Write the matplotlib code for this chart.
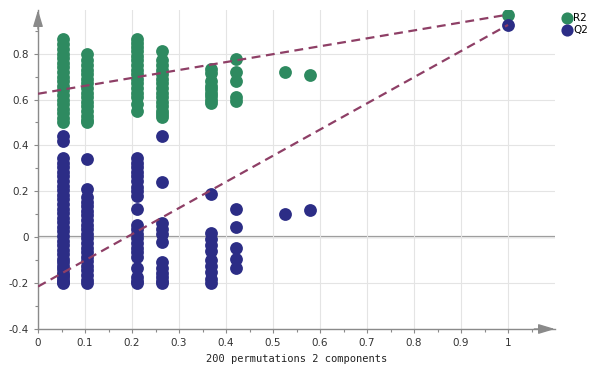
import matplotlib.pyplot as plt

# permutation results: x = correlation of permuted y with original y
r2_x = [1/19] * 19 + [2/19] * 16 + [4/19] * 16 + [5/19] * 15 + [7/19] * 9 + [8/19] * 5 + [10/19, 11/19, 1.0]
r2_y = [0.865, 0.84, 0.82, 0.80, 0.78, 0.76, 0.74, 0.72, 0.70, 0.68, 0.66, 0.64, 0.62, 0.60, 0.58, 0.56, 0.54, 0.52, 0.50,
        0.80, 0.77, 0.75, 0.73, 0.71, 0.69, 0.67, 0.65, 0.63, 0.61, 0.59, 0.57, 0.55, 0.53, 0.51, 0.50,
        0.865, 0.845, 0.83, 0.81, 0.79, 0.77, 0.75, 0.73, 0.71, 0.69, 0.67, 0.65, 0.63, 0.61, 0.58, 0.55,
        0.81, 0.77, 0.75, 0.73, 0.71, 0.69, 0.67, 0.65, 0.63, 0.61, 0.59, 0.57, 0.55, 0.535, 0.525,
        0.735, 0.715, 0.68, 0.66, 0.645, 0.63, 0.615, 0.60, 0.585,
        0.775, 0.72, 0.68, 0.61, 0.595,
        0.72, 0.705, 0.97]

q2_x = [1/19] * 34 + [2/19] * 22 + [4/19] * 22 + [5/19] * 12 + [7/19] * 10 + [8/19] * 5 + [10/19, 11/19, 1.0]
q2_y = [0.44, 0.42, 0.345, 0.325, 0.305, 0.285, 0.265, 0.245, 0.225, 0.205, 0.185, 0.165, 0.145, 0.125, 0.105, 0.085,
        0.065, 0.045, 0.025, 0.005, -0.015, -0.035, -0.055, -0.075, -0.095, -0.11, -0.125, -0.14, -0.155, -0.165,
        -0.175, -0.185, -0.195, -0.2,
        0.34, 0.21, 0.175, 0.155, 0.135, 0.115, 0.095, 0.075, 0.055, 0.035, 0.015, -0.005, -0.025, -0.045, -0.065,
        -0.085, -0.105, -0.125, -0.145, -0.165, -0.185, -0.2,
        0.345, 0.325, 0.305, 0.285, 0.265, 0.245, 0.22, 0.2, 0.18, 0.125, 0.055, 0.035, 0.015, -0.005, -0.025,
        -0.045, -0.065, -0.085, -0.135, -0.175, -0.19, -0.2,
        0.44, 0.24, 0.06, 0.035, 0.015, -0.02, -0.11, -0.135, -0.155, -0.175, -0.19, -0.2,
        0.19, 0.02, -0.01, -0.035, -0.06, -0.1, -0.125, -0.15, -0.18, -0.2,
        0.125, 0.045, -0.045, -0.095, -0.135,
        0.1, 0.12, 0.925]

# regression line intercepts (x = 0) and original model values (x = 1)
r2_line = [0.625, 0.97]
q2_line = [-0.215, 0.925]
line_x = [0, 1]

green = "#2e8a60"
blue = "#2c2d86"
dash = "#8e3f66"
axis_col = "#8a8a8a"

fig = plt.figure(figsize=(6.02, 3.77), dpi=100)
ax = fig.add_axes([38/602, 48/377, 517/602, 319/377])

ax.scatter(r2_x, r2_y, s=85, color=green, label="R2", zorder=3, linewidths=0)
ax.scatter(q2_x, q2_y, s=85, color=blue, label="Q2", zorder=4, linewidths=0)
ax.plot(line_x, r2_line, "--", color=dash, lw=1.6, dashes=(4, 2.5), zorder=5)
ax.plot(line_x, q2_line, "--", color=dash, lw=1.6, dashes=(4, 2.5), zorder=5)
ax.axhline(0, color="#9a9a9a", lw=1.6, zorder=1)

ax.set_xlim(0, 1.1)
ax.set_ylim(-0.4, 0.99)
ax.set_xticks([0, 0.1, 0.2, 0.3, 0.4, 0.5, 0.6, 0.7, 0.8, 0.9, 1])
ax.set_xticklabels(["0", "0.1", "0.2", "0.3", "0.4", "0.5", "0.6", "0.7", "0.8", "0.9", "1"])
ax.set_xticks([i * 0.05 for i in range(1, 22, 2)], minor=True)
ax.set_yticks([-0.4, -0.2, 0, 0.2, 0.4, 0.6, 0.8])
ax.set_yticklabels(["-0.4", "-0.2", "0", "0.2", "0.4", "0.6", "0.8"])
ax.set_yticks([-0.3, -0.1, 0.1, 0.3, 0.5, 0.7, 0.9], minor=True)
ax.tick_params(which="both", colors=axis_col, labelcolor="#333333", labelsize=7.5, length=3, width=0.8)
ax.tick_params(which="minor", length=2)
ax.grid(True, color="#e4e4e4", lw=0.8, zorder=0)

for s in ["top", "right"]:
    ax.spines[s].set_visible(False)
for s in ["left", "bottom"]:
    ax.spines[s].set_color(axis_col)
    ax.spines[s].set_linewidth(1.0)
arrow = dict(arrowstyle="-|>,head_length=1.0,head_width=0.3", color=axis_col, lw=1.0, shrinkA=0, shrinkB=0)
ax.annotate("", xy=(1.0, 0), xytext=(0.96, 0), xycoords="axes fraction", arrowprops=arrow, annotation_clip=False)
ax.annotate("", xy=(0, 1.0), xytext=(0, 0.94), xycoords="axes fraction", arrowprops=arrow, annotation_clip=False)

ax.set_xlabel("200 permutations 2 components", family="DejaVu Sans Mono", fontsize=7.5, color="#222222", labelpad=4)

fig.legend(loc="upper left", bbox_to_anchor=(0.918, 0.99), frameon=False, fontsize=7.5,
           handletextpad=0.1, labelspacing=0.15, markerscale=0.95, handlelength=1.0)

fig.savefig("out.png", dpi=100)
